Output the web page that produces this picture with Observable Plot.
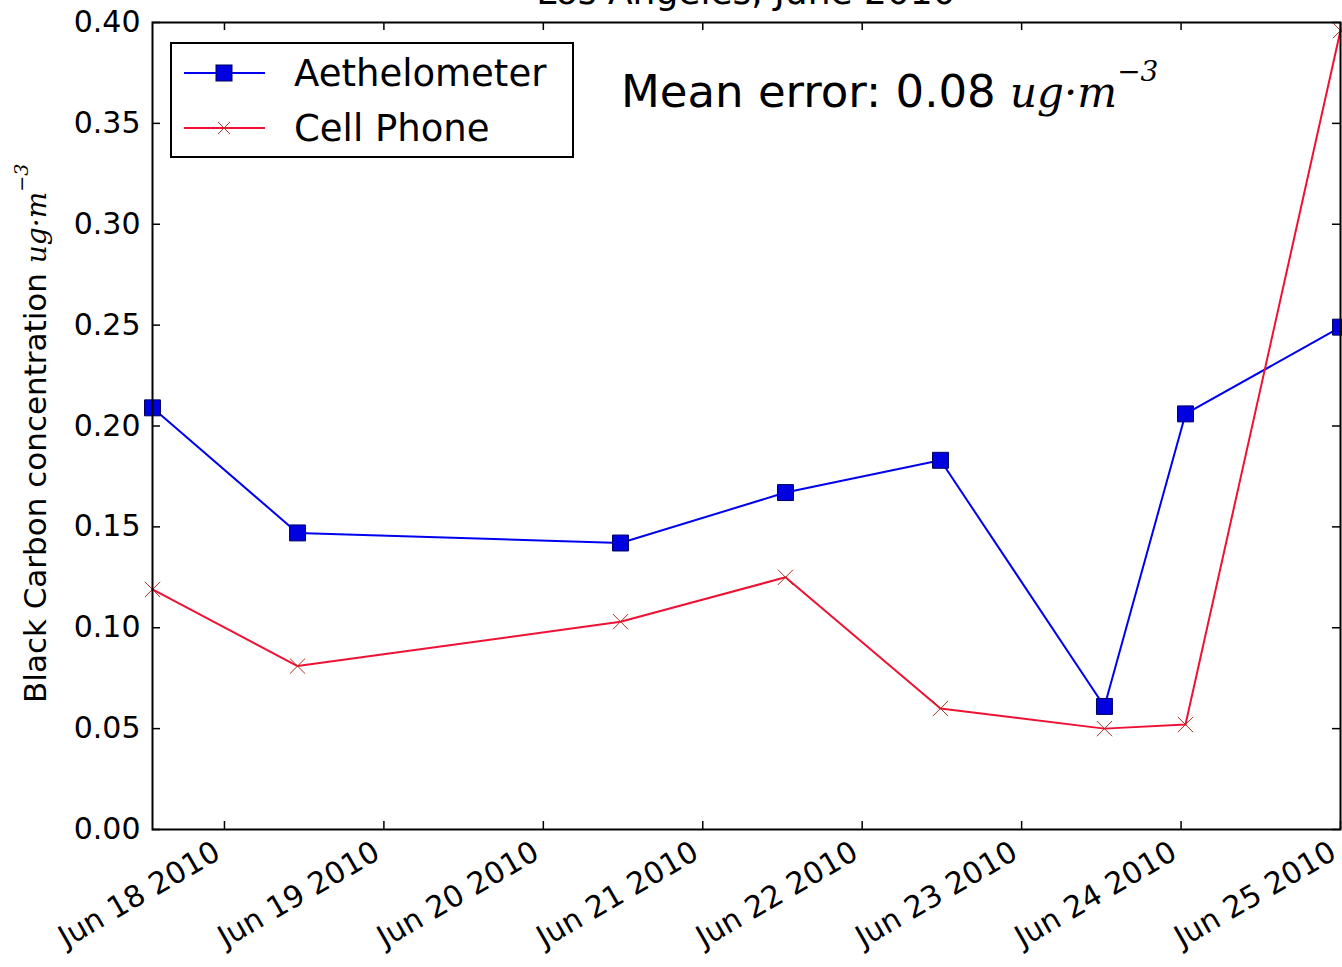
<!DOCTYPE html>
<html>
<head>
<meta charset="utf-8">
<script src="https://cdn.jsdelivr.net/npm/d3@7"></script>
<script src="https://cdn.jsdelivr.net/npm/@observablehq/plot@0.6"></script>
<style>
  html, body { margin: 0; padding: 0; background: #fff; overflow: hidden; }
  svg { display: block; }
</style>
</head>
<body>
<div id="chart"></div>
<script>
// ---- data ----
const seriesNames = ["Aethelometer", "Cell Phone"];
const sampleTimes = [
  "2010-06-17T13:10", "2010-06-18T11:00", "2010-06-20T11:37", "2010-06-21T12:27",
  "2010-06-22T11:47", "2010-06-23T12:28", "2010-06-24T00:40", "2010-06-25T00:00"
];
const aethelometerValues = [0.209, 0.147, 0.142, 0.167, 0.183, 0.061, 0.206, 0.249];
const cellPhoneValues    = [0.119, 0.081, 0.103, 0.125, 0.060, 0.050, 0.052, 0.396];
const xTickDates = ["2010-06-18", "2010-06-19", "2010-06-20", "2010-06-21",
                    "2010-06-22", "2010-06-23", "2010-06-24", "2010-06-25"];
const yTickValues = [0, 0.05, 0.10, 0.15, 0.20, 0.25, 0.30, 0.35, 0.40];
const titleText = "Los Angeles, June 2010";
const meanErrorText = "Mean error: 0.08";

const parseT = s => new Date(s + (s.length > 10 ? ":00Z" : "T00:00:00Z"));
const aeth = sampleTimes.map((t, i) => ({date: parseT(t), value: aethelometerValues[i]}));
const cell = sampleTimes.map((t, i) => ({date: parseT(t), value: cellPhoneValues[i]}));
const xTicks = xTickDates.map(parseT);

const W = 1342, H = 967;
const mL = 152, mR = 2, mT = 22, mB = 138;
const pw = W - mL - mR, ph = H - mT - mB;
const tickLen = 8;
const blue = "#0000f0", red = "#ee1133";
const font = "DejaVu Sans, sans-serif";

const plot = Plot.plot({
  width: W, height: H,
  marginLeft: mL, marginRight: mR, marginTop: mT, marginBottom: mB,
  style: {fontFamily: font, background: "white", color: "black"},
  x: {type: "utc", domain: [parseT(sampleTimes[0]), parseT(sampleTimes[sampleTimes.length - 1])]},
  y: {domain: [0, 0.4]},
  marks: [
    Plot.axisY({ticks: yTickValues, tickFormat: d3.format(".2f"), tickSize: 0, tickPadding: 12,
                fontSize: 30, label: null}),
    Plot.axisX({ticks: xTicks, tickFormat: d3.utcFormat("%b %d %Y"), tickRotate: -30,
                tickSize: 0, tickPadding: 16, fontSize: 30, label: null, dx: -7, dy: 4}),
    // inward ticks on all four sides
    Plot.ruleX(xTicks, {x: d => d, insetTop: ph - tickLen, stroke: "black", strokeWidth: 1.5}),
    Plot.ruleX(xTicks, {x: d => d, insetBottom: ph - tickLen, stroke: "black", strokeWidth: 1.5}),
    Plot.ruleY(yTickValues, {y: d => d, insetRight: pw - tickLen, stroke: "black", strokeWidth: 1.5}),
    Plot.ruleY(yTickValues, {y: d => d, insetLeft: pw - tickLen, stroke: "black", strokeWidth: 1.5}),
    Plot.line(aeth, {x: "date", y: "value", stroke: blue, strokeWidth: 2}),
    Plot.line(cell, {x: "date", y: "value", stroke: red, strokeWidth: 2}),
    Plot.dot(aeth, {x: "date", y: "value", symbol: "square", r: 9, fill: "#0000e0", stroke: "#000060", strokeWidth: 1}),
    Plot.dot(cell, {x: "date", y: "value", symbol: "times", r: 7, stroke: "#b03020", strokeWidth: 1}),
    Plot.frame({stroke: "black", strokeWidth: 2})
  ]
});
document.getElementById("chart").appendChild(plot);

// ---- annotations: title, y label, legend, mean error ----
const svg = d3.select(plot);

svg.append("text")
  .attr("x", mL + pw / 2).attr("y", 4)
  .attr("text-anchor", "middle")
  .attr("font-family", font).attr("font-size", 36).attr("fill", "black")
  .text(titleText);

const yl = svg.append("text")
  .attr("transform", "translate(46,703) rotate(-90)")
  .attr("text-anchor", "start")
  .attr("font-family", font).attr("font-size", 31).attr("fill", "black");
yl.append("tspan").text("Black Carbon concentration ");
yl.append("tspan").attr("font-family", "DejaVu Serif, serif").attr("font-style", "italic")
  .attr("font-size", 28).text("ug\u00B7m");
yl.append("tspan").attr("font-family", "DejaVu Serif, serif").attr("font-style", "italic")
  .attr("font-size", 19).attr("dy", -18).text("\u22123");

// legend
const lg = svg.append("g").attr("text-anchor", "start");
lg.append("rect").attr("x", 171).attr("y", 43).attr("width", 402).attr("height", 114)
  .attr("fill", "white").attr("stroke", "black").attr("stroke-width", 2);
const rows = [
  {name: seriesNames[0], y: 73, color: blue},
  {name: seriesNames[1], y: 128, color: red}
];
rows.forEach((r, i) => {
  lg.append("line").attr("x1", 184).attr("x2", 265).attr("y1", r.y).attr("y2", r.y)
    .attr("stroke", r.color).attr("stroke-width", 2);
  if (i === 0) {
    lg.append("rect").attr("x", 224 - 8).attr("y", r.y - 8).attr("width", 16).attr("height", 16)
      .attr("fill", "#0000e0").attr("stroke", "#000060");
  } else {
    lg.append("path").attr("d", `M${224-6},${r.y-6}L${224+6},${r.y+6}M${224-6},${r.y+6}L${224+6},${r.y-6}`)
      .attr("stroke", "#b03020").attr("stroke-width", 1);
  }
  lg.append("text").attr("x", 294).attr("y", r.y + 13)
    .attr("font-family", font).attr("font-size", 37).attr("fill", "black").text(r.name);
});

// mean error annotation
const me = svg.append("text").attr("x", 621).attr("y", 107)
  .attr("text-anchor", "start")
  .attr("font-family", font).attr("font-size", 45).attr("fill", "black");
me.append("tspan").text(meanErrorText + " ");
me.append("tspan").attr("font-family", "DejaVu Serif, serif").attr("font-style", "italic")
  .attr("font-size", 42).text("ug\u00B7m");
me.append("tspan").attr("font-family", "DejaVu Serif, serif").attr("font-style", "italic")
  .attr("font-size", 28).attr("dy", -26).text("\u22123");
</script>
</body>
</html>
